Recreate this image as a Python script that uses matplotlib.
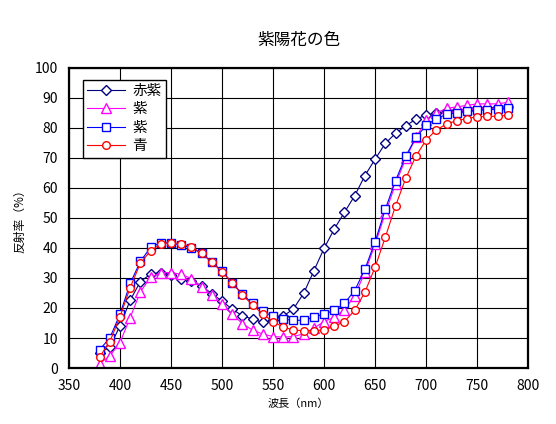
import numpy as np
import matplotlib
matplotlib.use('Agg')
from matplotlib import pyplot as plt

plt.rcParams['font.family'] = ['Noto Sans CJK JP', 'DejaVu Sans']

# wavelength (nm)
wavelength = list(range(380, 790, 10))

# reflectance (%)
akamurasaki = [5.0, 7.0, 14.0, 22.6, 28.8, 31.3, 31.8, 31.0, 29.8, 29.0,
               27.3, 24.8, 22.3, 19.6, 17.4, 16.3, 15.2, 16.0, 17.3, 19.7,
               24.9, 32.4, 39.9, 46.3, 51.9, 57.4, 64.1, 69.6, 74.8, 78.2,
               80.7, 82.9, 84.3, 85.0, 85.5, 86.0, 86.0, 86.5, 86.5, 87.0, 87.0]
murasaki_a = [1.5, 4.0, 8.5, 16.8, 25.4, 30.2, 31.8, 31.8, 31.2, 29.8,
              27.1, 24.2, 21.2, 17.9, 14.8, 12.6, 11.3, 10.5, 10.3, 10.5,
              11.4, 13.3, 15.5, 16.9, 19.4, 24.1, 31.9, 41.2, 51.6, 61.3,
              69.8, 76.8, 82.5, 85.0, 86.5, 87.0, 87.5, 88.0, 88.0, 88.0, 88.5]
murasaki_b = [6.1, 10.0, 17.9, 28.2, 35.5, 40.2, 41.8, 41.6, 41.0, 40.0,
              38.2, 35.3, 32.2, 28.4, 24.6, 21.5, 18.9, 17.2, 16.3, 15.9,
              15.9, 17.0, 18.0, 19.2, 21.6, 25.8, 32.9, 42.1, 52.9, 62.4,
              70.6, 76.8, 80.8, 83.1, 84.5, 85.0, 85.5, 85.8, 86.1, 86.2, 86.5]
ao = [3.7, 8.7, 17.1, 26.8, 34.9, 39.1, 41.3, 41.8, 41.4, 40.4,
      38.2, 35.3, 32.0, 28.4, 24.3, 21.0, 17.9, 15.5, 13.6, 12.7,
      12.4, 12.4, 12.7, 13.9, 15.5, 19.2, 25.3, 33.6, 43.6, 54.0,
      63.2, 70.6, 76.0, 79.3, 81.3, 82.4, 83.1, 83.7, 83.8, 83.9, 84.2]

labels = ['赤紫', '紫', '紫', '青']
colors = ['#000080', '#ff00ff', '#0000ff', '#ff0000']
markers = ['D', '^', 's', 'o']
msizes = [5, 7, 6, 5.5]
series = [akamurasaki, murasaki_a, murasaki_b, ao]

fig = plt.figure(figsize=(5.56, 4.24), dpi=100)
ax = fig.add_axes([0.124, 0.132, 0.826, 0.708])

for ys, lab, c, m, ms in zip(series, labels, colors, markers, msizes):
    ax.plot(wavelength, ys, '-', color=c, lw=0.8, marker=m, ms=ms,
            mfc='white', mec=c, mew=1.0, label=lab)

ax.set_xlim(350, 800)
ax.set_ylim(0, 100)
ax.set_xticks(np.arange(350, 801, 50))
ax.set_yticks(np.arange(0, 101, 10))
ax.grid(True, color='black', lw=0.8)
ax.set_axisbelow(True)
ax.tick_params(length=0, labelsize=10, pad=8)
for sp in ax.spines.values():
    sp.set_linewidth(1.6)

ax.set_xlabel('波長（nm）', fontsize=8, labelpad=4)
ax.set_ylabel('反射率（%）', fontsize=8.5, labelpad=6)
fig.text(0.537, 0.905, '紫陽花の色', ha='center', va='center', fontsize=12)

leg = ax.legend(loc='upper left', bbox_to_anchor=(0.014, 0.985), fontsize=10.5,
                fancybox=False, framealpha=1, edgecolor='black',
                handlelength=2.6, borderpad=0.3, labelspacing=0.3,
                handletextpad=0.5)
leg.get_frame().set_linewidth(1.0)

plt.savefig('out.png', dpi=100)
